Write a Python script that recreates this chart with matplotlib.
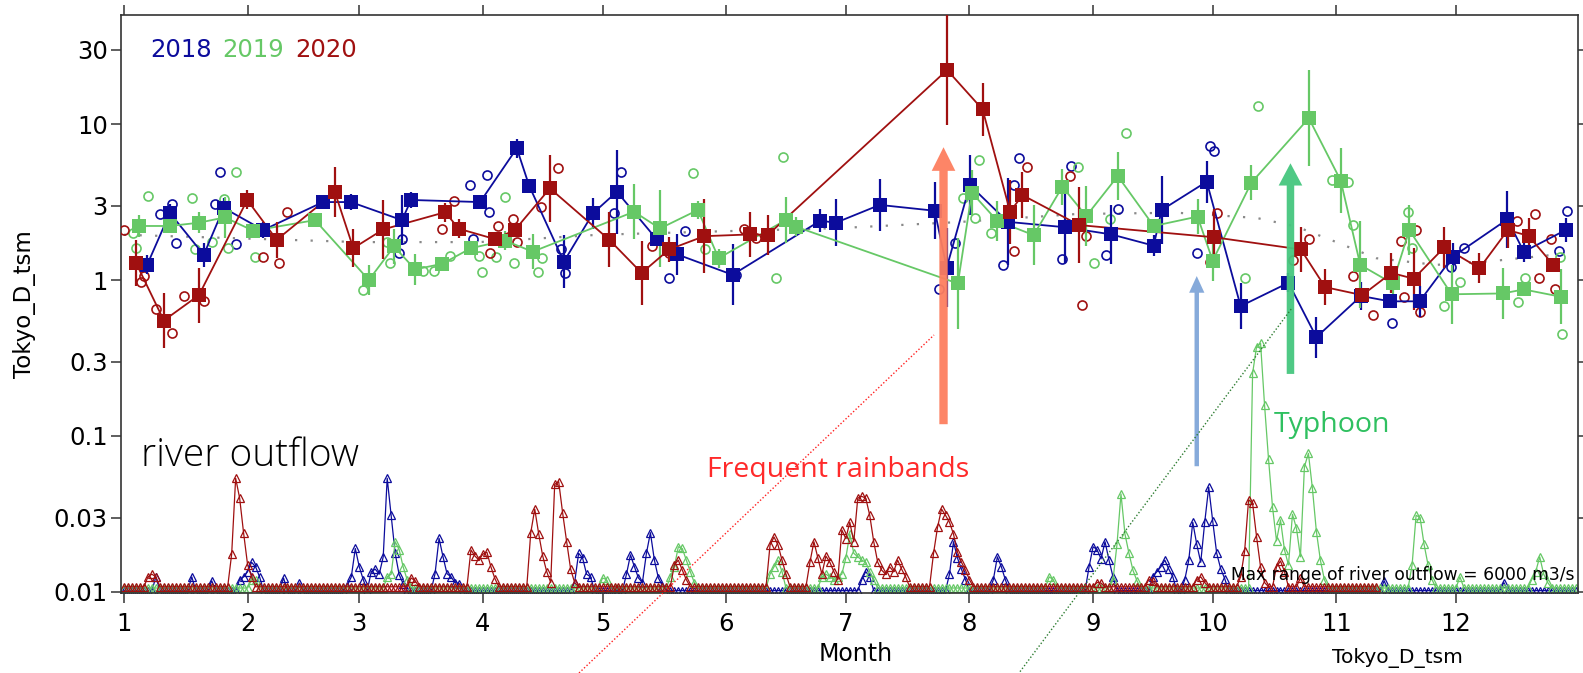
import numpy as np
import matplotlib.pyplot as plt
from matplotlib.lines import Line2D

# x axis is day of year, ticks at the first day of each month
month_start = [1, 32, 60, 91, 121, 152, 182, 213, 244, 274, 305, 335]
month_labels = [str(m) for m in range(1, 13)]
ytick_vals = [0.01, 0.03, 0.1, 0.3, 1, 3, 10, 30]
ytick_labels = ["0.01", "0.03", "0.1", "0.3", "1", "3", "10", "30"]

years = ["2018", "2019", "2020"]
colors = {"2018": "#0c0c9c", "2019": "#66c866", "2020": "#a01010"}

# semi-monthly means (filled squares) with error factor (multiplicative)
sq_day = {
    "2018": [6.8, 12.5, 21, 26, 35.9, 50.9, 57.9, 70.7, 73, 90.3, 99.5, 102.6, 111.3, 118.6,
             124.6, 134.6, 139.7, 153.6, 175.6, 179.5, 190.5, 204.3, 207.3, 213.1, 222.6,
             236.9, 248.6, 259.2, 261.2, 272.5, 281, 293, 300, 311.2, 318.4, 325.9, 334.2,
             347.9, 352, 362.5],
    "2019": [4.8, 12.5, 19.8, 26.3, 33.4, 48.9, 62.4, 68.7, 74, 80.8, 88, 96.5, 103.5, 128.9,
             135.4, 144.9, 150.1, 166.9, 169.4, 210.1, 213.6, 220, 229.1, 236.3, 242.3, 250.2,
             259.2, 270.2, 274, 283.7, 298.1, 306.1, 311, 319.1, 323.3, 333.9, 346.7, 352,
             361.4],
    "2020": [4, 11, 19.8, 31.9, 39.3, 53.9, 58.5, 66, 81.5, 85, 94, 99, 107.8, 122.7, 130.8,
             137.7, 146.5, 158.1, 162.4, 207.4, 216.3, 223.2, 226.3, 240.5, 274.3, 296.1,
             302.2, 311.5, 318.8, 324.4, 332.1, 340.9, 348, 353.2, 359.4],
}
sq_val = {
    "2018": [1.25, 2.69, 1.45, 2.9, 2.09, 3.16, 3.16, 2.42, 3.26, 3.16, 6.99, 4.02, 1.31, 2.68,
             3.68, 1.82, 1.46, 1.08, 2.40, 2.33, 3.03, 2.78, 1.2, 4.06, 2.36,
             2.18, 1.96, 1.66, 2.81, 4.27, 0.68, 0.96, 0.43, 0.79, 0.73, 0.73, 1.41,
             2.45, 1.52, 2.09],
    "2019": [2.22, 2.22, 2.33, 2.52, 2.07, 2.42, 1.0, 1.64, 1.17, 1.27, 1.6, 1.79, 1.52, 2.74,
             2.14, 2.81, 1.38, 2.42, 2.2, 0.95, 3.63, 2.39, 1.94, 3.96, 2.57, 4.64,
             2.22, 2.55, 1.33, 4.21, 10.9, 4.34, 1.25, 0.95, 2.09, 0.81, 0.82, 0.87,
             0.78],
    "2020": [1.29, 0.55, 0.80, 3.26, 1.81, 3.65, 1.6, 2.11, 2.72, 2.13, 1.83, 2.09, 3.87, 1.81,
             1.11, 1.57, 1.91, 1.96, 1.94, 22.2, 12.4, 2.74, 3.5, 2.25, 1.88, 1.57,
             0.90, 0.80, 1.11, 1.02, 1.62, 1.19, 2.09, 1.92, 1.25],
}
sq_err = {
    "2018": [1.15, 1.15, 1.19, 1.15, 1.12, 1.1, 1.12, 1.45, 1.12, 1.05, 1.15, 1.05, 1.48, 1.26,
             1.86, 1.1, 1.35, 1.57, 1.19, 1.41, 1.47, 1.52, 1.79, 1.55, 1.9,
             1.69, 1.54, 1.17, 1.65, 1.36, 1.41, 1.15, 1.35, 1.23, 1.1, 1.26, 1.23,
             1.52, 1.17, 1.19],
    "2019": [1.17, 1.1, 1.17, 1.35, 1.1, 1.05, 1.25, 1.3, 1.26, 1.05, 1.05, 1.15, 1.3, 1.5,
             1.77, 1.15, 1.15, 1.4, 1.15, 1.97, 1.4, 1.35, 1.55, 1.3, 1.55, 1.42,
             1.1, 1.3, 1.35, 1.3, 2.04, 1.62, 1.9, 1.3, 1.45, 1.55, 1.45, 1.1,
             1.5],
    "2020": [1.4, 1.5, 1.5, 1.15, 1.3, 1.45, 1.33, 1.55, 1.15, 1.15, 1.1, 1.1, 1.64, 1.5,
             1.6, 1.2, 1.72, 1.4, 1.35, 2.25, 1.47, 1.6, 1.4, 1.75, 1.52, 1.4,
             1.3, 1.1, 1.35, 1.58, 1.35, 1.25, 1.3, 1.3, 1.1],
}

# individual observations (open circles)
circ_day = {
    "2018": [25, 13, 10, 14, 23.8, 29, 87.8, 92, 92.5, 88.5, 70, 70.7, 110.7, 111.7, 125.7,
             123.8, 141.7, 137.6, 154.4, 205.4, 209.4, 221.4, 224.2, 225.4, 238.5, 236.3,
             250.2, 247.3, 273.2, 274.3, 270.1, 319, 337.1, 333.7, 362.8, 360.9],
    "2019": [7, 3.3, 4, 18, 18.8, 23, 29, 26, 27, 33.8, 61, 67, 67.7, 76, 78.7, 82.7, 90,
             90.8, 94.3, 96.5, 98.8, 104.8, 105.8, 143.6, 146.7, 164.5, 166.3, 211.3, 215.3,
             214.4, 218.5, 240.3, 244.3, 248.2, 252.2, 282.1, 285.3, 304, 308, 309.1, 322.9,
             324.1, 331.9, 335.9, 352.4, 350.6, 361.6, 361.2],
    "2020": [1, 5.3, 6, 9, 13, 16, 21, 35.9, 39.9, 41.9, 83.7, 80.7, 92.8, 94.8, 98.5, 109.8,
             105.6, 99.6, 133.4, 137.6, 156.4, 159.6, 227.4, 224.2, 238.3, 242.3, 241.2,
             275.2, 273.2, 298.1, 294.1, 309.1, 314.1, 321.1, 322, 324.9, 326, 350.4, 354.9,
             355.9, 358.9, 359.8],
}
circ_val = {
    "2018": [4.92, 3.07, 2.65, 1.73, 3.07, 1.70, 4.06, 4.71, 2.73, 1.83, 1.49, 1.83, 1.57, 1.11,
             4.94, 2.68, 2.07, 1.03, 1.08, 0.87, 1.73, 1.25, 4.06, 6.03, 5.4, 1.36,
             2.84, 1.45, 7.26, 6.71, 1.5, 0.53, 1.6, 1.22, 2.78, 1.54],
    "2019": [3.45, 2.0, 1.60, 3.36, 1.58, 1.75, 4.92, 3.31, 1.60, 1.40, 0.86, 1.75, 1.29, 1.14,
             1.14, 1.43, 1.43, 1.13, 1.40, 3.40, 1.29, 1.13, 1.38, 4.87, 1.57, 1.03, 6.12,
             3.37, 5.88, 2.49, 2.01, 5.32, 1.29, 2.46, 8.72, 1.03, 13.0, 4.38, 4.27, 2.25,
             2.72, 1.6, 0.68, 0.97, 1.03, 0.72, 0.45, 1.41],
    "2020": [2.09, 0.97, 1.06, 0.65, 0.46, 0.79, 0.73, 1.40, 1.29, 2.73, 3.21, 2.12, 1.49, 2.22,
             2.46, 5.25, 2.92, 1.76, 1.65, 1.50, 2.13, 1.85, 5.27, 1.54, 4.64, 1.91, 0.69,
             2.68, 1.31, 1.83, 1.34, 1.06, 0.60, 1.78, 0.78, 2.09, 0.62, 2.40, 2.65, 1.03,
             1.82, 0.88],
}

# daily river outflow (scaled): low-flow level and events (first day, daily values)
flow_last_day = {"2018": 365, "2019": 365, "2020": 315}
flow_base = {"2018": 0.0102, "2019": 0.0106, "2020": 0.0108}
flow_events = {
    "2018": [(9, [0.0125]), (18, [0.0125]), (23, [0.0118]),
             (30, [0.012, 0.0125, 0.0135, 0.0155, 0.0145, 0.0125]),
             (41, [0.0123]), (45, [0.0114]),
             (57, [0.011, 0.0125, 0.019, 0.0145, 0.012]),
             (63, [0.0135, 0.014, 0.013, 0.0168, 0.0536, 0.031, 0.0177, 0.0129, 0.0113]),
             (79, [0.0131, 0.0221, 0.0168, 0.0131, 0.0125, 0.0115, 0.0113]),
             (114, [0.0115, 0.0177, 0.0165, 0.013, 0.0125]),
             (127, [0.013, 0.0173, 0.0145, 0.0123, 0.0115, 0.0177, 0.024, 0.016, 0.0123, 0.011]),
             (186, [0.012, 0.0135, 0.0125]),
             (208, [0.013, 0.021, 0.0165, 0.014, 0.012]),
             (219, [0.012, 0.0168, 0.0145, 0.012]),
             (243, [0.0145, 0.0195, 0.0187, 0.0163, 0.021, 0.016, 0.0125]),
             (259, [0.0125, 0.0135, 0.0145, 0.016, 0.014, 0.0125]),
             (267, [0.012, 0.016, 0.028, 0.0202, 0.0155, 0.028, 0.047, 0.0285, 0.0177, 0.0141, 0.0122]),
             (317, [0.0118]), (347, [0.0115])],
    "2019": [(33, [0.012, 0.012]),
             (67, [0.0125, 0.013, 0.021, 0.0187, 0.0145, 0.012]),
             (121, [0.0123, 0.012]),
             (138, [0.0125, 0.0145, 0.0195, 0.019, 0.016, 0.0135, 0.0115]),
             (163, [0.013, 0.0145, 0.016, 0.0135]),
             (176, [0.0125, 0.013, 0.0125, 0.012, 0.0125, 0.013, 0.0165, 0.0236, 0.0177, 0.0168,
                    0.016, 0.0155, 0.0135, 0.012]),
             (233, [0.0125, 0.012]),
             (249, [0.012, 0.0202, 0.0425, 0.0235, 0.0177, 0.0138, 0.0118]),
             (284, [0.252, 0.374, 0.393, 0.158, 0.071, 0.035, 0.0213, 0.029, 0.0186, 0.0149,
                    0.0315, 0.0256, 0.0168, 0.0636, 0.0774, 0.0462, 0.0244, 0.016, 0.012]),
             (324, [0.0149, 0.031, 0.030, 0.0202, 0.0149, 0.012]),
             (336, [0.0125]),
             (354, [0.012, 0.0135, 0.0168, 0.013, 0.0115])],
    "2020": [(7, [0.0125, 0.013, 0.0125]),
             (28, [0.0175, 0.0536, 0.040, 0.0238, 0.0149, 0.0125]),
             (73, [0.0123, 0.0118]),
             (88, [0.0186, 0.017, 0.016, 0.0175, 0.018, 0.0145, 0.0122]),
             (103, [0.024, 0.034, 0.0235, 0.017, 0.0135, 0.0115, 0.049, 0.051, 0.032, 0.021,
                    0.014, 0.0115]),
             (139, [0.0149, 0.016, 0.0138, 0.012]),
             (163, [0.020, 0.0225, 0.020, 0.016, 0.013]),
             (173, [0.0155, 0.021, 0.0165, 0.013, 0.017, 0.0155, 0.0135, 0.012, 0.025, 0.022,
                    0.028, 0.021, 0.040, 0.041, 0.040, 0.031, 0.021, 0.0155, 0.0138, 0.013,
                    0.0145, 0.0135, 0.016, 0.014, 0.0125]),
             (204, [0.0177, 0.026, 0.034, 0.031, 0.028, 0.0235, 0.018, 0.0155, 0.0138, 0.012]),
             (245, [0.0115, 0.0114]), (258, [0.012, 0.0118]),
             (270, [0.012, 0.0125, 0.0115]),
             (281, [0.0125, 0.0182, 0.039, 0.037, 0.0226, 0.0145, 0.0115]),
             (290, [0.0145, 0.0158, 0.0135]), (296, [0.0123])],
}

# multi-year mean (grey dotted)
clim_day = [1, 30, 60, 90, 120, 150, 180, 210, 240, 265, 285, 295, 305, 315, 330, 345, 365]
clim_val = [1.95, 1.85, 1.75, 1.75, 1.95, 2.05, 2.15, 2.35, 2.65, 2.7, 2.5, 2.2, 1.75, 1.38,
            1.25, 1.33, 1.5]


def build_flow(last_day, base, events):
    days = np.arange(1, last_day + 1)
    vals = np.full(days.shape, base)
    for start, seq in events:
        vals[start - 1:start - 1 + len(seq)] = seq
    return days, vals


W, H = 1583, 673
fig = plt.figure(figsize=(W / 100, H / 100), dpi=100)
ax = fig.add_axes([121 / W, (H - 593) / H, (1578 - 121) / W, (593 - 15) / H])
ax.set_yscale("log")

# river outflow triangles
for yr in years:
    d, v = build_flow(flow_last_day[yr], flow_base[yr], flow_events[yr])
    ax.plot(d, v, "-^", color=colors[yr], lw=0.9, ms=6, mfc="none", mew=0.9, zorder=2)

ax.plot(clim_day, clim_val, color="#8a8a8a", lw=1.6, ls=(0, (1, 6)), zorder=2)

for yr in years:
    ax.plot(circ_day[yr], circ_val[yr], "o", ms=6.5, mfc="none", mec=colors[yr], mew=1.2,
            zorder=3)

for yr in years:
    v = np.array(sq_val[yr])
    f = np.array(sq_err[yr])
    ax.errorbar(sq_day[yr], v, yerr=[v - v / f, v * f - v], fmt="none", ecolor=colors[yr],
                elinewidth=1.6, capsize=0, zorder=4)
    ax.plot(sq_day[yr], v, "-", color=colors[yr], lw=1.3, zorder=4)
    ax.plot(sq_day[yr], v, "s", color=colors[yr], ms=10, mew=0, zorder=5)

ax.set_xlim(0.25, 365.6)
ax.set_ylim(0.00985, 50)
ax.set_xticks(month_start)
ax.set_xticklabels(month_labels)
ax.set_yticks(ytick_vals)
ax.set_yticklabels(ytick_labels)
ax.minorticks_off()
ax.tick_params(direction="out", top=True, right=True, labelsize=17.5, width=1.1,
               color="#333333")
ax.tick_params(axis="x", length=7, pad=7)
ax.tick_params(axis="y", length=7.5, pad=2)
for s in ax.spines.values():
    s.set_color("#333333")
    s.set_linewidth(1.2)

# year legend as coloured words
for x, yr in zip([0.0199, 0.0693, 0.1194], years):
    ax.text(x, 0.9386, yr, color=colors[yr], fontsize=17.5, va="center", ha="left",
            transform=ax.transAxes)

fig.text(25 / W, 0.548, "Tokyo_D_tsm", rotation=90, ha="center", va="center", fontsize=16.5)
fig.text(856 / W, 1 - 654 / H, "Month", ha="center", va="center", fontsize=17)
fig.text(1397 / W, 1 - 658 / H, "Tokyo_D_tsm", ha="center", va="center", fontsize=14.5)

ann = ["Open Sans", "DejaVu Sans"]
ax.text(0.0137, 0.237, "river outflow", family=ann, fontweight="light", fontsize=28,
        va="center", ha="left", transform=ax.transAxes, zorder=6)
ax.text(0.402, 0.213, "Frequent rainbands", family=ann, fontsize=20.5, color="#ff2a2a",
        va="center", ha="left", transform=ax.transAxes, zorder=6)
ax.text(0.791, 0.291, "Typhoon", family=ann, fontsize=20.5, color="#2fc060",
        va="center", ha="left", transform=ax.transAxes, zorder=6)
ax.text(0.762, 0.031, "Max range of river outflow = 6000 m3/s", fontsize=12.3,
        va="center", ha="left", transform=ax.transAxes, zorder=6)

# arrows (day of year, value)
arrows = [
    ((206.5, 0.119), (206.5, 7.1), "#fd7f5f", 6.0, 17, 17),
    ((270.0, 0.064), (270.0, 1.06), "#80a6d8", 3.2, 11, 12),
    ((293.5, 0.25), (293.5, 5.6), "#45c67f", 5.4, 17, 16),
]
for tail, tip, col, tw, hw, hl in arrows:
    ax.annotate("", xy=tip, xytext=tail, zorder=7,
                arrowprops=dict(arrowstyle=f"simple,tail_width={tw},head_width={hw},head_length={hl}",
                                mutation_scale=1, color=col, lw=0, alpha=0.95,
                                shrinkA=0, shrinkB=0))

# dotted guide lines (figure coordinates)
fig.add_artist(Line2D([579 / W, 934 / W], [0.0, 1 - 335 / H], transform=fig.transFigure,
                      color="#ff2020", lw=1.0, ls=(0, (1, 1.5))))
fig.add_artist(Line2D([1020 / W, 1292 / W], [0.002, 1 - 308 / H], transform=fig.transFigure,
                      color="#2e7d32", lw=1.0, ls=(0, (1, 1.5))))

fig.savefig("out.png", dpi=100)
